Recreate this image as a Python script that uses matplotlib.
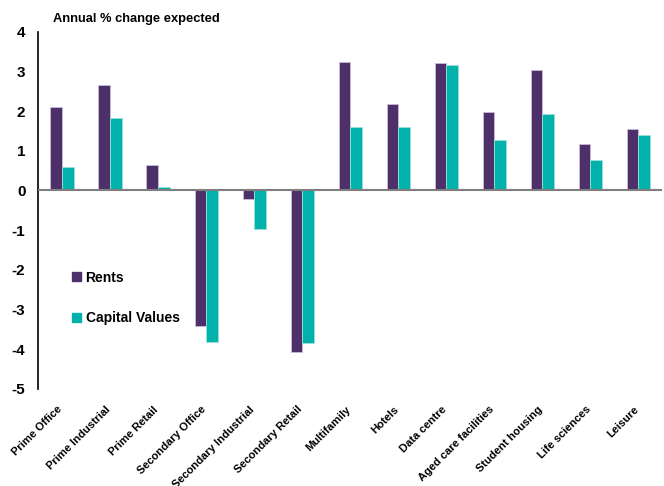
import numpy as np
import matplotlib.pyplot as plt
from matplotlib.patches import Patch

# Data
categories = ["Prime Office", "Prime Industrial", "Prime Retail", "Secondary Office",
              "Secondary Industrial", "Secondary Retail", "Multifamily", "Hotels",
              "Data centre", "Aged care facilities", "Student housing", "Life sciences",
              "Leisure"]
rents = [2.11, 2.65, 0.63, -3.41, -0.21, -4.08, 3.23, 2.19, 3.20, 1.98, 3.04, 1.17, 1.56]
capital_values = [0.59, 1.82, 0.08, -3.82, -0.97, -3.85, 1.60, 1.60, 3.15, 1.26, 1.92, 0.76, 1.41]

purple = '#4D2F69'
teal = '#00B2A9'

plt.rcParams['font.family'] = ['Liberation Sans', 'DejaVu Sans']
plt.rcParams['axes.unicode_minus'] = False

fig = plt.figure(figsize=(6.64, 4.86), dpi=100)
ax = fig.add_axes([0.0572, 0.1996, 0.94, 0.7352])

x = np.arange(len(categories))
w = 0.24
ax.bar(x - w/2, rents, w, color=purple, edgecolor='#C9BDD6', linewidth=0.6)
ax.bar(x + w/2, capital_values, w, color=teal, edgecolor='#9FE0DB', linewidth=0.6)

ax.set_xlim(-0.5, len(categories) - 0.5)
ax.set_ylim(-5, 4)
ax.set_yticks(range(-5, 5))
ax.axhline(0, color='#7F7F7F', linewidth=1.5, zorder=3)

for s in ['top', 'right', 'bottom']:
    ax.spines[s].set_visible(False)
ax.spines['left'].set_linewidth(1.2)
ax.tick_params(axis='y', length=0, pad=9, labelsize=11)
for t in ax.get_yticklabels():
    t.set_fontweight('bold')

ax.set_xticks(x - 0.1)
ax.set_xticklabels(categories, rotation=45, ha='right', rotation_mode='anchor',
                   fontsize=8, fontweight='bold')
ax.tick_params(axis='x', length=0, pad=11)

fig.text(53/664, 1 - 19/486, "Annual % change expected", fontsize=9.3,
         fontweight='bold', va='center', ha='left')

handles = [Patch(color=purple, label='Rents'), Patch(color=teal, label='Capital Values')]
leg = ax.legend(handles=handles, loc='center left', bbox_to_anchor=(0.035, 0.255),
                frameon=False, handlelength=0.65, handleheight=0.65, handletextpad=0.3,
                labelspacing=1.9, prop={'weight': 'bold', 'size': 10})

fig.savefig('out.png', dpi=100)
